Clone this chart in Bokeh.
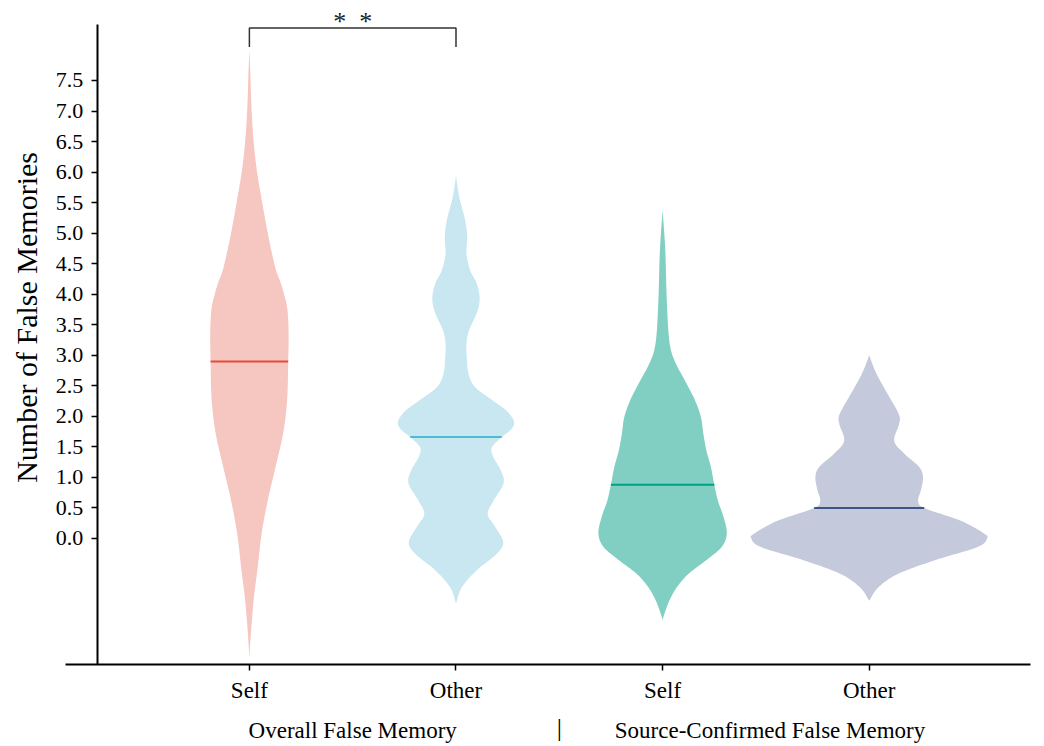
import numpy as np
from bokeh.plotting import figure
from bokeh.models import LinearAxis, FixedTicker
from bokeh.core.properties import value
from bokeh.embed import file_html
from bokeh.resources import INLINE

# ---------------- data ----------------
categories = ["Self", "Other", "Self", "Other"]
positions = [1, 2, 3, 4]
groups = ["Overall False Memory", "Source-Confirmed False Memory"]
group_positions = [1.5, 3.52]
y_ticks = [0.0, 0.5, 1.0, 1.5, 2.0, 2.5, 3.0, 3.5, 4.0, 4.5, 5.0, 5.5, 6.0, 6.5, 7.0, 7.5]
y_tick_labels = ["0.0", "0.5", "1.0", "1.5", "2.0", "2.5", "3.0", "3.5",
                 "4.0", "4.5", "5.0", "5.5", "6.0", "6.5", "7.0", "7.5"]
medians = [2.90, 1.66, 0.88, 0.50]

# violin outlines: value levels and density (half-width)
v1_y = [7.99, 7.60, 7.17, 6.63, 6.08, 5.53, 4.99, 4.44, 4.20, 4.01, 3.75, 3.36, 2.90,
        2.26, 1.72, 1.16, 0.62, 0.08, -0.47, -1.02, -1.56, -1.95]
v1_d = [0, 1.0, 1.8, 3.6, 7.0, 12.5, 18.5, 25.8, 31, 34.5, 38.0, 39.2, 38.8,
        37.7, 33.7, 26, 18.3, 12.2, 8.3, 4.2, 1.5, 0]

v2_y = [5.94, 5.59, 5.21, 4.93, 4.66, 4.39, 4.17, 3.92, 3.68, 3.41, 3.19, 2.97, 2.70,
        2.48, 2.26, 2.10, 1.93, 1.80, 1.66, 1.49, 1.33, 1.11, 0.90, 0.62, 0.40, 0.19,
        -0.06, -0.25, -0.52, -0.80, -1.07]
v2_d = [0, 3.3, 9.2, 11.2, 10.5, 14.2, 20.8, 23.7, 20.5, 13, 10.5, 10.8, 12.5,
        19, 36.7, 50, 57.8, 55.8, 45.8, 35.8, 37.5, 45, 47.5, 37.5, 31.7, 39.2,
        47.2, 40.8, 20.8, 5.8, 0]

v3_y = [5.37, 4.72, 3.90, 3.24, 2.91, 2.53, 2.26, 1.99, 1.71, 1.44, 1.17, 0.88, 0.62,
        0.35, 0.08, -0.14, -0.36, -0.58, -0.80, -1.02, -1.24, -1.34]
v3_d = [0, 2.7, 4.2, 6.7, 12, 24.2, 32.5, 38.3, 40.8, 43.8, 48.3, 51.7, 55.3,
        61, 64.2, 59, 43.3, 25.8, 14.2, 6.7, 1.7, 0]

v4_y = [3.00, 2.70, 2.37, 2.04, 1.88, 1.60, 1.39, 1.17, 1.00, 0.79, 0.62, 0.50, 0.29,
        0.08, 0.00, -0.14, -0.36, -0.58, -0.80, -1.02]
v4_d = [0, 7.2, 18.3, 29.5, 30, 25, 35, 50, 53.8, 51.7, 49, 55, 91.7,
        115, 117.8, 108.3, 65, 28.7, 9.2, 0]

# ---------------- styles ----------------
WIDTH_SCALE = 206.6          # density units per category spacing
fills = ["#F6C6C0", "#C8E7F0", "#81CFC3", "#C4CADB"]
lines = ["#E64B35", "#4DBBD5", "#00A087", "#3C5488"]
FONT = "Liberation Serif"


def smooth_outline(y, w, n=10):
    """Catmull-Rom curve through the read outline points (drawing only)."""
    pts = np.column_stack([y, w])
    P = np.vstack([pts[0], pts, pts[-1]])
    t = np.linspace(0, 1, n, endpoint=False)[:, None]
    out = []
    for i in range(1, len(P) - 2):
        p0, p1, p2, p3 = P[i - 1], P[i], P[i + 1], P[i + 2]
        seg = 0.5 * ((2 * p1) + (-p0 + p2) * t + (2 * p0 - 5 * p1 + 4 * p2 - p3) * t ** 2
                     + (-p0 + 3 * p1 - 3 * p2 + p3) * t ** 3)
        out.append(seg)
    out.append(pts[-1][None, :])
    s = np.vstack(out)
    return s[:, 0], np.clip(s[:, 1], 0, None)


p = figure(width=1044, height=746, x_range=(-0.2047, 4.8485), y_range=(-3.406, 8.8096),
           x_axis_location=None, y_axis_location=None, toolbar_location=None,
           output_backend="svg", min_border=0, min_border_left=0, min_border_right=0,
           min_border_top=0, min_border_bottom=0)
p.outline_line_color = None
p.xgrid.visible = False
p.ygrid.visible = False

violins = [(v1_y, v1_d), (v2_y, v2_d), (v3_y, v3_d), (v4_y, v4_d)]
for i, (vy, vd) in enumerate(violins):
    c = positions[i]
    y, d = smooth_outline(np.array(vy, dtype=float), np.array(vd, dtype=float))
    w = d / WIDTH_SCALE
    xs = np.concatenate([c - w, (c + w)[::-1]])
    ys = np.concatenate([y, y[::-1]])
    p.patch(xs, ys, fill_color=fills[i], line_color=None)
    hw = np.interp(medians[i], y[::-1], w[::-1])
    p.line([c - hw, c + hw], [medians[i], medians[i]], line_color=lines[i], line_width=2)

# significance bracket
p.line([positions[0], positions[0], positions[1], positions[1]], [8.05, 8.36, 8.36, 8.05],
       line_color="#333333", line_width=1.5)
p.text(x=[1.5], y=[8.47], text=["*\u00a0\u00a0*"], text_font=value(FONT), text_font_size="26px",
       text_align="center", text_baseline="alphabetic", text_color="#222222")

# y axis
yax = LinearAxis(fixed_location=0.263, bounds=(-2.06, 8.42))
yax.ticker = FixedTicker(ticks=y_ticks)
yax.major_label_overrides = {t: l for t, l in zip(y_ticks, y_tick_labels)}
yax.axis_line_width = 2
yax.axis_line_color = "black"
yax.major_tick_line_width = 1.5
yax.major_tick_out = 6
yax.major_tick_in = 0
yax.minor_tick_line_color = None
yax.major_label_text_font = FONT
yax.major_label_text_font_size = "22px"
yax.major_label_text_color = "black"
yax.major_label_standoff = 8
p.add_layout(yax, "left")

# x axis
xax = LinearAxis(fixed_location=-2.06, bounds=(0.11, 4.78))
xax.ticker = FixedTicker(ticks=positions)
xax.major_label_overrides = {pos: cat for pos, cat in zip(positions, categories)}
xax.axis_line_width = 2
xax.axis_line_color = "black"
xax.major_tick_line_width = 1.5
xax.major_tick_out = 6
xax.major_tick_in = 0
xax.minor_tick_line_color = None
xax.major_label_text_font = FONT
xax.major_label_text_font_size = "23px"
xax.major_label_text_color = "black"
xax.major_label_standoff = 8
p.add_layout(xax, "below")

# y axis title
p.text(x=[-0.079], y=[3.62], text=["Number of False Memories"], angle=np.pi / 2,
       text_font=value(FONT), text_font_size="30px", text_align="center",
       text_baseline="middle", text_color="black")

# group labels and separator
p.text(x=group_positions, y=[-3.14, -3.14], text=groups, text_font=value(FONT),
       text_font_size="23px", text_align="center", text_baseline="alphabetic",
       text_color="black")
p.text(x=[2.5], y=[-3.10], text=["|"], text_font=value(FONT), text_font_size="26px",
       text_align="center", text_baseline="alphabetic", text_color="black")

open("out.html", "w").write(file_html(p, INLINE))
